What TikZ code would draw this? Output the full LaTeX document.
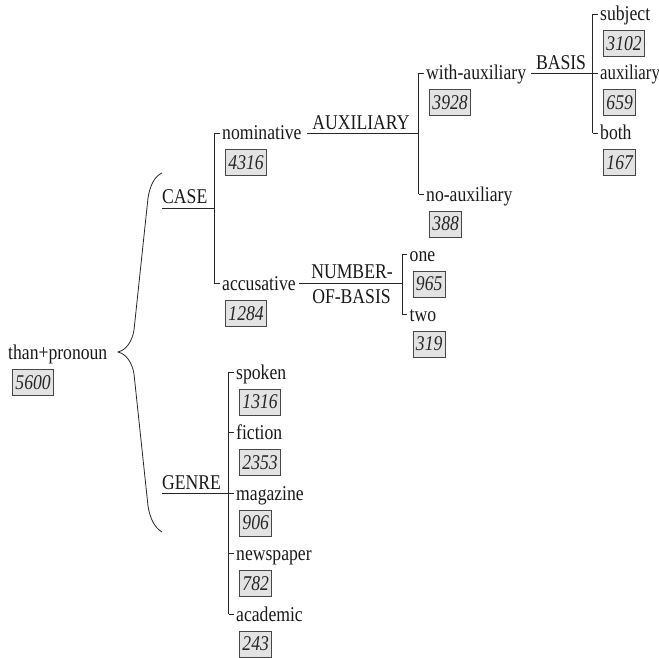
\documentclass[tikz,border=0pt]{standalone}
\usepackage{fontspec}
\setmainfont{Liberation Serif}[FakeStretch=0.84]
\newcommand\lblfont{\fontsize{21}{25}\selectfont}
\tikzset{
  lbl/.style={inner sep=0pt, font=\lblfont, text=black!90},
  num/.style={draw=black!72, fill=black!11, line width=0.9pt, inner xsep=3pt, inner ysep=0pt, minimum height=26pt, font=\lblfont\itshape, text=black!85},
  ln/.style={draw=black!85, line width=0.8pt},
  bracestyle/.style={draw=black!85, line width=0.8pt}
}
\newcommand\leafitem[5]{%
  \coordinate (#1t) at (#2,#3);
  \node[lbl, anchor=base west] (#1) at (#2+7.5,#3+7) {#4};
  \node[num, anchor=north west] (#1n) at (#2+10.5,#3+16.5) {#5};
  \draw[ln] (#1t) -- ([xshift=-2.5pt]#1.west |- #1t);
}
\begin{document}
\begin{tikzpicture}[x=1pt,y=-1pt]
\useasboundingbox (0,0) rectangle (659,658);

% root
\node[lbl, anchor=base west] (root) at (8,359) {than+pronoun};
\node[num, anchor=north west] (rootn) at (12,369) {5600};

% brace
\coordinate (braceTop) at (162,173);
\coordinate (braceTip) at (118,352);
\coordinate (braceBot) at (162,532);
\draw[bracestyle] (braceTop) .. controls (155,176) and (150,185) .. (148,198)
  -- (134,330) .. controls (132,342) and (126,350) .. (braceTip)
  .. controls (126,354) and (132,362) .. (134,374)
  -- (148,506) .. controls (150,519) and (155,528) .. (braceBot);

% CASE branch
\leafitem{nom}{214.5}{133}{nominative}{4316}
\leafitem{accs}{214.5}{283.5}{accusative}{1284}
\draw[ln] (nomt) -- (accst);
\coordinate (caseM) at (214.5,208);
\node[lbl, anchor=base west] (case) at (162,204) {CASE};
\draw[ln] (case.west |- caseM) -- (caseM);

% AUXILIARY branch
\leafitem{withaux}{418.5}{73}{with-auxiliary}{3928}
\leafitem{noaux}{418.5}{194}{no-auxiliary}{388}
\draw[ln] (withauxt) -- (noauxt);
\draw[ln] ([xshift=5pt]nom.east |- nomt) -- (nomt -| withauxt);
\node[lbl, anchor=base] (auxlbl) at (361,130) {AUXILIARY};

% BASIS branch
\leafitem{subj}{592.5}{14}{subject}{3102}
\leafitem{auxi}{592.5}{73}{\addfontfeature{FakeStretch=0.8}auxiliary}{659}
\leafitem{both}{592.5}{133}{both}{167}
\draw[ln] (subjt) -- (botht);
\draw[ln] ([xshift=5pt]withaux.east |- withauxt) -- (auxit);
\node[lbl, anchor=base] (basislbl) at (561,69.5) {BASIS};

% NUMBER-OF-BASIS branch
\leafitem{one}{402}{254}{one}{965}
\leafitem{two}{402}{314}{two}{319}
\draw[ln] (onet) -- (twot);
\draw[ln] ([xshift=3pt]accs.east |- accst) -- (accst -| onet);
\node[lbl, anchor=base] (noblbl1) at (352,278.3) {NUMBER-};
\node[lbl, anchor=base] (noblbl2) at (351.5,303.3) {OF-BASIS};

% GENRE branch
\leafitem{spok}{228.5}{372}{spoken}{1316}
\leafitem{fict}{228.5}{432.5}{fiction}{2353}
\leafitem{maga}{228.5}{493}{magazine}{906}
\leafitem{news}{228.5}{553.5}{newspaper}{782}
\leafitem{acad}{228.5}{614}{academic}{243}
\draw[ln] (spokt) -- (acadt);
\node[lbl, anchor=base west] (genre) at (162,489) {GENRE};
\draw[ln] (genre.west |- magat) -- (magat);
\end{tikzpicture}
\end{document}
